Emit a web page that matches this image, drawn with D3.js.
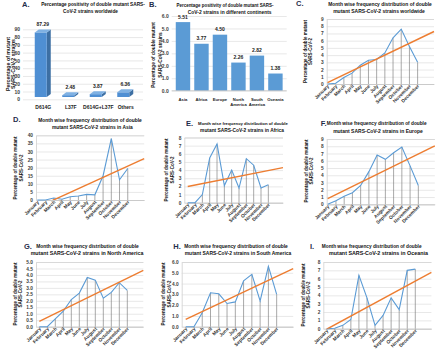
<!DOCTYPE html>
<html><head><meta charset="utf-8">
<script src="https://cdn.jsdelivr.net/npm/d3@7"></script>
<style>
body{margin:0;background:#fff}
svg{display:block}
text{font-family:"Liberation Sans Narrow","Liberation Sans",Arial,sans-serif;font-weight:bold}
</style>
</head><body>
<svg id="chart" width="440" height="355"></svg>
<script>
// ---------- DATA ----------
const mutations = ["D614G", "L37F", "D614G+L37F", "Others"];
const mutationValues = [87.29, 2.48, 3.87, 6.36];
const continents = ["Asia", "Africa", "Europe", "North America", "South America", "Oceania"];
const continentValues = [5.51, 3.77, 4.50, 2.26, 2.82, 1.38];
const months = ["January","February","March","April","May","June","July","August","September","October","November","December"];
const worldwide    = [0, 0.1, 0.9, 1.5, 2.6, 3.3, 3.4, 4.3, 6.4, 7.6, 5.2, 3.0];
const asia         = [0, 0, 1.2, 0.5, 2.0, 2.5, 3.5, 3.2, 15, 38, 12.5, 19.5];
const africa       = [0, 0, 1.0, 5.5, 7.2, 2.1, 4.0, 1.8, 5.4, 4.6, 1.8, 2.2];
const europe       = [0, 0.5, 1.1, 1.6, 2.6, 4.5, 6.8, 6.2, 7.1, 7.9, 5.3, 2.6];
const northAmerica = [0, 0, 0.6, 1.2, 2.1, 2.6, 3.8, 3.6, 2.2, 2.65, 3.4, 2.8];
const southAmerica = [0, 0, 1.3, 3.15, 3.05, 2.15, 2.3, 4.25, 4.85, 2.4, 5.6, 3.0];
const oceania      = [0, 0.05, 0.4, 1.1, 6.4, 3.7, 0.4, 1.6, 3.7, 2.3, 7.0, 7.15];
const regionNames  = ["worldwide", "in Asia", "in Africa", "in Europe", "in North America", "in South America", "in Oceania"];
const yAxisTicksA = [0,10,20,30,40,50,60,70,80,90];
const yAxisTicksB = [0,1,2,3,4,5,6];

// ---------- SETUP ----------
const svg = d3.select("#chart");
const BLUE = "#5B9BD5", ORANGE = "#ED7D31", GRID = "#d9d9d9", LETTER = "#1f2d4a";

// set font size so that the natural width equals the target width
function fit(sel, target, base, maxFs) {
  sel.attr("font-size", base);
  const w = sel.node().getComputedTextLength();
  let fs = base * target / w;
  if (maxFs) fs = Math.min(fs, maxFs);
  sel.attr("font-size", fs);
  return sel;
}

function addTitle(letter, lp, lines, cx, ty, tw) {
  svg.append("text").attr("x", lp[0]).attr("y", lp[1] + 2.6)
    .attr("font-size", 7.5).attr("fill", LETTER)
    .style("font-family", "'Liberation Sans',Arial,sans-serif").text(letter);
  lines.forEach((t, i) => {
    const s = svg.append("text").attr("x", cx[i]).attr("y", ty[i] + 2.1)
      .attr("text-anchor", "middle").attr("fill", "#111").text(t);
    fit(s, tw[i], 6, 6.8);
  });
}
function addYTitle(lines, xs, cy, len) {
  let fs = 4.6;
  lines.forEach((t, i) => {
    const tx = svg.append("text").attr("transform", `translate(${xs[i] + 1.6},${cy}) rotate(-90)`)
      .attr("text-anchor", "middle").attr("fill", "#111").text(t);
    if (i === 0) { fit(tx, len, 5, 5.6); fs = +tx.attr("font-size"); }
    else tx.attr("font-size", fs);
  });
}
function styleAxis(g, fs) {
  g.selectAll("text").attr("font-size", fs).attr("fill", "#404040");
}

// ---------- PANEL A (3D bars) ----------
(function () {
  addTitle("A.", [22, 4], ["Percentage positivity of double mutant SARS-", "CoV-2 strains worldwide"], [93, 90.5], [4, 10.7], [104, 55]);
  addYTitle(["Percentage of mutant", "SARS-CoV-2 strains"], [8.3, 13.3], 64, 54);
  const y = d3.scaleLinear().domain([0, 90]).range([99.3, 29.3]);
  const yBar = d3.scaleLinear().domain([0, 90]).range([97, 30.4]);
  const x = d3.scalePoint().domain(mutations).range([27, 137]).padding(0.5);
  const ax = svg.append("g").attr("transform", "translate(23,0)")
    .call(d3.axisLeft(y).tickValues(yAxisTicksA).tickSize(-120).tickPadding(3));
  ax.select(".domain").remove();
  ax.selectAll(".tick line").attr("stroke", GRID).attr("stroke-width", 0.6);
  styleAxis(ax, 5);
  const w = 12, d = 4, dd = 3;
  const bars = svg.append("g").selectAll("g").data(mutations).join("g");
  bars.append("path").attr("fill", "#3d6fa3").attr("d", (m, i) => {
    const x1 = x(m) + w / 2, top = yBar(mutationValues[i]), base = yBar(0);
    return `M${x1},${top}L${x1 + d},${top - dd}L${x1 + d},${base - dd}L${x1},${base}Z`;
  });
  bars.append("rect").attr("fill", "#4f8fd3")
    .attr("x", m => x(m) - w / 2).attr("width", w)
    .attr("y", (m, i) => yBar(mutationValues[i]))
    .attr("height", (m, i) => yBar(0) - yBar(mutationValues[i]));
  bars.append("path").attr("fill", "#7fb1e3").attr("d", (m, i) => {
    const x0 = x(m) - w / 2, x1 = x(m) + w / 2, top = yBar(mutationValues[i]);
    return `M${x0},${top}L${x0 + d},${top - dd}L${x1 + d},${top - dd}L${x1},${top}Z`;
  });
  bars.append("text").attr("x", m => x(m) + 2).attr("y", (m, i) => yBar(mutationValues[i]) - dd - 3.5)
    .attr("text-anchor", "middle").attr("font-size", 5).attr("fill", "#222")
    .text((m, i) => mutationValues[i].toFixed(2));
  const xa = svg.append("g").attr("transform", "translate(2,103)")
    .call(d3.axisBottom(x).tickSize(0).tickPadding(2.5));
  xa.select(".domain").remove();
  styleAxis(xa, 5);
  xa.selectAll("text").attr("fill", "#222");
})();

// ---------- PANEL B (bars) ----------
(function () {
  addTitle("B.", [149, 4.5], ["Percentage positivity of double mutant SARS-", "CoV-2 strains in different continents"], [225, 229.7], [5, 11.7], [97, 84]);
  addYTitle(["Percentage of double mutant", "SARS-CoV-2 strains"], [153.3, 160], 55, 66);
  const y = d3.scaleLinear().domain([0, 6]).range([90.7, 16]);
  const x = d3.scaleBand().domain(continents).range([171.7, 286.7]).padding(0.22);
  const ax = svg.append("g").attr("transform", "translate(171.7,0)")
    .call(d3.axisLeft(y).tickValues(yAxisTicksB).tickSize(-115).tickPadding(3));
  ax.select(".domain").remove();
  ax.selectAll(".tick line").attr("stroke", GRID).attr("stroke-width", 0.6);
  styleAxis(ax, 5);
  svg.append("g").selectAll("rect").data(continents).join("rect")
    .attr("x", c => x(c)).attr("width", x.bandwidth())
    .attr("y", (c, i) => y(continentValues[i])).attr("height", (c, i) => y(0) - y(continentValues[i]))
    .attr("fill", BLUE);
  svg.append("g").selectAll("text").data(continents).join("text")
    .attr("x", c => x(c) + x.bandwidth() / 2).attr("y", (c, i) => y(continentValues[i]) - 3.3)
    .attr("text-anchor", "middle").attr("font-size", 5).attr("fill", "#222")
    .text((c, i) => continentValues[i].toFixed(2));
  svg.append("line").attr("x1", 171.7).attr("x2", 286.7).attr("y1", y(0)).attr("y2", y(0)).attr("stroke", "#bfbfbf").attr("stroke-width", 0.7);
  const xa = svg.append("g").attr("transform", `translate(0,${y(0)})`)
    .call(d3.axisBottom(x).tickSize(0).tickFormat(() => ""));
  xa.select(".domain").remove();
  xa.selectAll(".tick").each(function (c) {
    const parts = c.split(" ");
    const t = d3.select(this).append("text").attr("y", 10).attr("text-anchor", "middle")
      .attr("font-size", 4.2).attr("fill", "#222");
    parts.forEach((p, i) => t.append("tspan").attr("x", 0).attr("dy", i === 0 ? 0 : 5.3).text(p));
  });
})();

// ---------- LINE PANELS ----------
const linePanels = [
  {letter:"C.", series: worldwide,    yMax:9,  step:1,   ax:326.7, x1:327.5, x14:434,   yTop:19,    y0:84,    lp:[296,3.5],   cx:[380,379],     ty:[4.3,11],      tw:[104,92],  yt:[305,310.5],   ytc:51.5},
  {letter:"D.", series: asia,         yMax:40, step:5,   ax:36,    x1:37.3,  x14:144.2, yTop:135.3, y0:200,   lp:[13,119.7],  cx:[90,92.3],     ty:[119.7,127.3], tw:[104,81],  yt:[15,21],       ytc:168},
  {letter:"E.", series: africa,       yMax:8,  step:1,   ax:184.3, x1:187.7, x14:283,   yTop:137.5, y0:202.7, lp:[186,123],   cx:[243,242],     ty:[122.5,129.5], tw:[90,84],   yt:[166.7,172.3], ytc:170},
  {letter:"F.", series: europe,       yMax:9,  step:1,   ax:326.7, x1:327.7, x14:434.8, yTop:139,   y0:204.3, lp:[320.7,123], cx:[376.7,378],   ty:[123,130.5],   tw:[100,90],  yt:[306,311.7],   ytc:171},
  {letter:"G.", series: northAmerica, yMax:5,  step:0.5, ax:36,    x1:39.3,  x14:143.3, yTop:262,   y0:326.7, lp:[24,246],    cx:[87.5,87],     ty:[246,252.7],   tw:[103,113], yt:[15,20],       ytc:294},
  {letter:"H.", series: southAmerica, yMax:6,  step:1,   ax:181.7, x1:185.7, x14:293.2, yTop:262,   y0:326.7, lp:[173.3,246], cx:[236,238],     ty:[246,252.7],   tw:[104,107], yt:[163.3,169],   ytc:294},
  {letter:"I.", series: oceania,      yMax:8,  step:1,   ax:323.3, x1:326.7, x14:431.4, yTop:262,   y0:328.7, lp:[310,246],   cx:[371.7,378.5], ty:[246,252.7],   tw:[100,99],  yt:[303.3,308.3], ytc:295}
];

linePanels.forEach((p, k) => {
  addTitle(p.letter, p.lp, ["Month wise  frequency distribution of double", "mutant SARS-CoV-2 strains " + regionNames[k]], p.cx, p.ty, p.tw);
  addYTitle(["Percentage of double mutant", "SARS-CoV-2"], p.yt, p.ytc, 63);
  const idx = d3.range(1, 15);
  const x = d3.scalePoint().domain(idx).range([p.x1, p.x14]);
  const y = d3.scaleLinear().domain([0, p.yMax]).range([p.y0, p.yTop]);
  const ticks = d3.range(0, p.yMax + p.step / 2, p.step);
  const g = svg.append("g");
  const ya = g.append("g").attr("transform", `translate(${p.ax},0)`)
    .call(d3.axisLeft(y).tickValues(ticks).tickSize(-(p.x14 - p.ax)).tickPadding(3));
  ya.select(".domain").attr("stroke", "#bfbfbf").attr("stroke-width", 0.6);
  ya.selectAll(".tick line").attr("stroke", GRID).attr("stroke-width", 0.6);
  styleAxis(ya, 4.8);
  const xa = g.append("g").attr("transform", `translate(0,${p.y0})`)
    .call(d3.axisBottom(x).tickSize(0).tickFormat(i => months[i - 1] || ""));
  xa.select(".domain").attr("stroke", "#bfbfbf").attr("stroke-width", 0.6);
  xa.selectAll("text").attr("font-size", 4.8).attr("fill", "#333")
    .attr("text-anchor", "end").attr("x", 0).attr("y", 0).attr("dy", 0)
    .attr("transform", "translate(1.5,2.5) rotate(-45)");
  const pts = p.series.map((v, i) => [i + 1, v]);
  // drop lines
  g.append("g").selectAll("line").data(pts).join("line")
    .attr("x1", d => x(d[0])).attr("x2", d => x(d[0]))
    .attr("y1", d => y(d[1])).attr("y2", y(0))
    .attr("stroke", "#6f6f6f").attr("stroke-width", 0.6);
  // data line
  g.append("path").datum(pts).attr("fill", "none").attr("stroke", BLUE).attr("stroke-width", 1.1)
    .attr("d", d3.line().x(d => x(d[0])).y(d => y(d[1])));
  // linear trendline (least squares, forecast 2 periods)
  const mx = d3.mean(pts, d => d[0]), my = d3.mean(pts, d => d[1]);
  const slope = d3.sum(pts, d => (d[0] - mx) * (d[1] - my)) / d3.sum(pts, d => (d[0] - mx) ** 2);
  const icpt = my - slope * mx;
  const clipId = "clip" + k;
  svg.append("clipPath").attr("id", clipId).append("rect")
    .attr("x", p.ax).attr("y", p.yTop - 2).attr("width", p.x14 - p.ax + 2).attr("height", p.y0 - p.yTop + 2);
  g.append("path").datum([1, 14]).attr("clip-path", `url(#${clipId})`)
    .attr("fill", "none").attr("stroke", ORANGE).attr("stroke-width", 1.4)
    .attr("d", d3.line().x(d => x(d)).y(d => y(icpt + slope * d)));
});
</script>
</body></html>
